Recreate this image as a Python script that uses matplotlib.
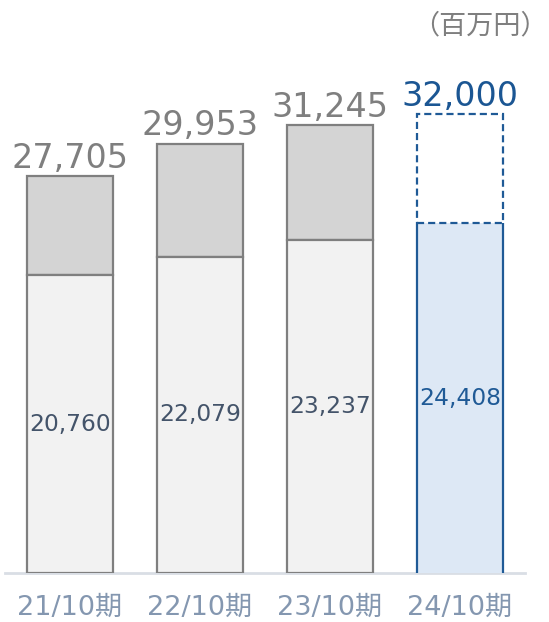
import matplotlib
matplotlib.use("Agg")
import matplotlib.pyplot as plt

categories = ["21/10期", "22/10期", "23/10期", "24/10期"]
bottom_vals = [20760, 22079, 23237, 24408]
total_vals = [27705, 29953, 31245, 32000]
forecast = [False, False, False, True]

plt.rcParams['font.family'] = ['DejaVu Sans', 'Noto Sans CJK JP']

W, H = 549, 622
fig = plt.figure(figsize=(W / 100, H / 100), dpi=100)
ax = fig.add_axes([0, (H - 573) / H, 1, 516 / H])

x = list(range(len(categories)))
ax.set_xlim(-70 / 130, (W - 70) / 130)
ax.set_ylim(0, 36000)

gray_edge = "#7f7f7f"
blue_edge = "#1f5a96"
lw = 1.6
width = 0.665

for i in x:
    b = bottom_vals[i]
    t = total_vals[i]
    if not forecast[i]:
        ax.bar(i, t - b, bottom=b, width=width, color="#d4d4d4",
               edgecolor=gray_edge, linewidth=lw, zorder=2)
        ax.bar(i, b, width=width, color="#f2f2f2",
               edgecolor=gray_edge, linewidth=lw, zorder=3)
        tc = "#7f7f7f"
        ic = "#44546a"
    else:
        lower = ax.bar(i, b, width=width, color="#dde8f5",
                       edgecolor="none", linewidth=0, zorder=2)[0]
        ax.bar(i, t - b, bottom=b, width=width, color="white",
               edgecolor=blue_edge, linewidth=lw, linestyle=(0, (3.2, 1.8)),
               zorder=3)
        x0 = lower.get_x()
        x1 = x0 + lower.get_width()
        ax.vlines([x0, x1], 0, b, colors=blue_edge, linewidth=lw, zorder=4)
        tc = "#1b5693"
        ic = "#1f5a96"
    ax.annotate(f"{t:,}", xy=(i, t), xytext=(0, 6), textcoords="offset points",
                ha="center", va="baseline", fontsize=24, color=tc)
    ax.text(i, b / 2, f"{b:,}", ha="center", va="center", fontsize=16.8,
            color=ic, zorder=5)

for s in ["top", "right", "left"]:
    ax.spines[s].set_visible(False)
ax.spines["bottom"].set_color("#d9dee5")
ax.spines["bottom"].set_linewidth(2)
ax.spines["bottom"].set_zorder(1)
ax.spines["bottom"].set_bounds(-0.5, 3.5)
ax.set_yticks([])
ax.set_xticks(x)
ax.set_xticklabels(categories, fontsize=19.5, color="#8497b0")
ax.tick_params(axis="x", length=0, pad=16)
ax.patch.set_alpha(0)

fig.text(547.5 / W, 1 - 26 / H, "（百万円）", ha="right", va="center",
         fontsize=19.5, color="#7f7f7f", family=['Noto Sans CJK JP'])

fig.savefig("out.png", dpi=100)
